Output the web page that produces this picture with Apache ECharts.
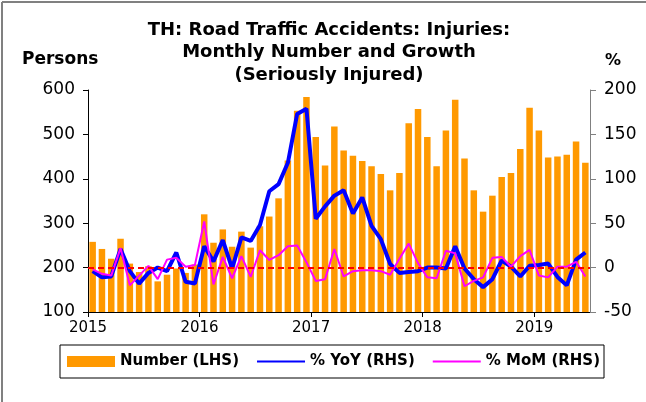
<!DOCTYPE html>
<html>
<head>
<meta charset="utf-8">
<script src="https://cdn.jsdelivr.net/npm/echarts@6/dist/echarts.min.js"></script>
<style>
html,body{margin:0;padding:0;background:#fff;}
#chart{width:646px;height:402px;}
</style>
</head>
<body>
<div id="chart"></div>
<script>
// Months Jan 2015 .. Jun 2019
var months = [];
for (var y = 2015; y <= 2019; y++) {
  for (var m = 1; m <= 12; m++) {
    if (y === 2019 && m > 6) break;
    months.push(y + '-' + (m < 10 ? '0' + m : m));
  }
}
var yearLabels = ['2015', '2016', '2017', '2018', '2019'];

var numberLHS = [
  258, 242, 220, 265, 209, 190, 203, 169, 184, 198, 188, 207,
  320, 256, 286, 247, 281, 245, 293, 315, 356, 441, 553, 584,
  494, 430, 518, 464, 452, 440, 428, 411, 374, 413, 525, 557,
  494, 428, 509, 578, 446, 374, 326, 362, 404, 413, 467, 560,
  509, 448, 450, 454, 484, 436
];
var yoyRHS = [
  -4, -11, -10, 21, -4, -18, -6, 0, -4, 17, -16, -18,
  24, 7, 31, -1, 34, 30, 48, 86, 94, 118, 173, 179,
  55, 69, 81, 87, 61, 79, 47, 32, 4, -6, -5, -4,
  0, 0, -1, 24, -1, -13, -22, -13, 8, 1, -10, 2,
  3, 4.5, -10.5, -20, 9, 17
];
var momRHS = [
  -2, -7, -9, 22, -20, -9, 2, -13, 9, 11, 1, 3,
  52, -19, 12, -12, 13, -10.5, 19.5, 8.6, 14, 24, 25, 6,
  -15, -13, 21, -10, -4, -3, -3, -4, -8, 10, 27, 5,
  -11, -12, 19, 16, -21, -15, -11, 11, 12, 1, 13, 20,
  -9, -11, 1, 1, 6.5, -10
];

var FONT = "'DejaVu Sans', 'Liberation Sans', Arial, sans-serif";
var chart = echarts.init(document.getElementById('chart'), null, {renderer: 'canvas'});

var option = {
  backgroundColor: '#fff',
  animation: false,
  textStyle: {fontFamily: FONT},
  title: {
    text: 'TH: Road Traffic Accidents: Injuries:\nMonthly Number and Growth\n(Seriously Injured)',
    left: 329, top: 19, padding: 0, textAlign: 'center',
    textStyle: {fontFamily: FONT, fontSize: 18, fontWeight: 'bold', color: '#000', lineHeight: 22.5}
  },
  graphic: [
    {type: 'line', shape: {x1: 2, y1: 2, x2: 646, y2: 2}, style: {stroke: '#808080', lineWidth: 2}},
    {type: 'line', shape: {x1: 2, y1: 2, x2: 2, y2: 402}, style: {stroke: '#808080', lineWidth: 2}},
    {type: 'text', left: 22, top: 51, style: {text: 'Persons', font: 'bold 17px ' + FONT, fill: '#000'}},
    {type: 'text', left: 605, top: 53, style: {text: '%', font: 'bold 16px ' + FONT, fill: '#000'}}
  ],
  legend: {
    data: [
      {name: 'Number (LHS)', icon: 'rect'},
      {name: '% YoY (RHS)', itemStyle: {opacity: 0}},
      {name: '% MoM (RHS)', itemStyle: {opacity: 0}}
    ],
    left: 60, top: 345,
    padding: [9, 4, 9, 7],
    borderColor: '#000', borderWidth: 1,
    itemWidth: 48, itemHeight: 11, itemGap: 17,
    textStyle: {fontFamily: FONT, fontSize: 15, fontWeight: 'bold', color: '#000'}
  },
  grid: {left: 88, right: 56, top: 90, bottom: 90, containLabel: false},
  xAxis: [
    {type: 'category', data: months, boundaryGap: true, show: false, gridIndex: 0},
    {
      type: 'value', min: 0, max: 54, interval: 12, gridIndex: 0, position: 'bottom',
      axisLine: {show: true, lineStyle: {color: '#000', width: 1}},
      axisTick: {show: true, length: 5, lineStyle: {color: '#000'}, customValues: [0, 12, 24, 36, 48]},
      axisLabel: {
        customValues: [0, 12, 24, 36, 48],
        formatter: function (v) { return yearLabels[Math.round(v / 12)] || ''; },
        fontFamily: FONT, fontSize: 15, color: '#000', margin: 9
      },
      splitLine: {show: false}
    }
  ],
  yAxis: [
    {
      type: 'value', min: 100, max: 600, interval: 100,
      axisLine: {show: true, lineStyle: {color: '#000'}},
      axisTick: {show: true, length: 5, lineStyle: {color: '#000'}},
      axisLabel: {fontFamily: FONT, fontSize: 17, color: '#000', margin: 13},
      splitLine: {show: false}
    },
    {
      type: 'value', min: -50, max: 200, interval: 50, position: 'right',
      axisLine: {show: true, lineStyle: {color: '#808080'}},
      axisTick: {show: true, length: 6, lineStyle: {color: '#808080'}},
      axisLabel: {fontFamily: FONT, fontSize: 17, color: '#000', margin: 14},
      splitLine: {show: false}
    }
  ],
  series: [
    {
      name: 'Number (LHS)', type: 'bar', xAxisIndex: 0, yAxisIndex: 0,
      data: numberLHS, barWidth: '70%',
      itemStyle: {color: '#FF9900'}, z: 1
    },
    {
      name: 'zero', type: 'line', xAxisIndex: 0, yAxisIndex: 1, data: [],
      silent: true, z: 2,
      markLine: {
        silent: true, symbol: ['none', 'none'], label: {show: false},
        lineStyle: {color: '#FF0000', type: [6, 4], width: 2},
        data: [{yAxis: 0}]
      }
    },
    {
      name: '% YoY (RHS)', type: 'line', xAxisIndex: 0, yAxisIndex: 1,
      data: yoyRHS, symbol: 'none', z: 3,
      lineStyle: {color: '#0000FF', width: 4},
      itemStyle: {color: '#0000FF'}
    },
    {
      name: '% MoM (RHS)', type: 'line', xAxisIndex: 0, yAxisIndex: 1,
      data: momRHS, symbol: 'none', z: 4,
      lineStyle: {color: '#FF00FF', width: 2},
      itemStyle: {color: '#FF00FF'}
    }
  ]
};
chart.setOption(option);
</script>
</body>
</html>
